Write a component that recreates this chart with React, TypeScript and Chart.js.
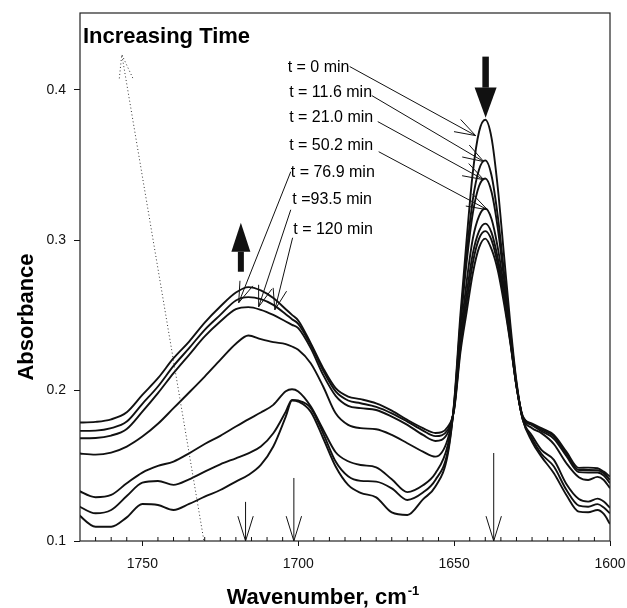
import React, { useEffect, useRef } from "react";
import { Chart, registerables } from "chart.js";

Chart.register(...registerables);

const FONT = '"Liberation Sans", Arial, Helvetica, sans-serif';

// Wavenumber sample points (cm-1)
const wavenumbers = [1771, 1765, 1760, 1755, 1750, 1745, 1740, 1735, 1730, 1725, 1720, 1716, 1712, 1708, 1704, 1702, 1700, 1696, 1692, 1688, 1684, 1680, 1675, 1670, 1665, 1660, 1656, 1652, 1650, 1648, 1646, 1644, 1642, 1640, 1638, 1636, 1634, 1632, 1630, 1628, 1625, 1622, 1618, 1614, 1610, 1607, 1604, 1602, 1600];

// Absorbance spectra, one per time
const absT0 = [0.1184, 0.1095, 0.1095, 0.1157, 0.1246, 0.1239, 0.1206, 0.1246, 0.1295, 0.1339, 0.1395, 0.1439, 0.1506, 0.1628, 0.1827, 0.1934, 0.1927, 0.1860, 0.1683, 0.1495, 0.1373, 0.1320, 0.1290, 0.1190, 0.1173, 0.1277, 0.1362, 0.1580, 0.1920, 0.2500, 0.3000, 0.3450, 0.3720, 0.3800, 0.3680, 0.3350, 0.2900, 0.2450, 0.2060, 0.1810, 0.1660, 0.1561, 0.1450, 0.1306, 0.1195, 0.1191, 0.1206, 0.1180, 0.1113];
const absT11 = [0.1238, 0.1184, 0.1206, 0.1299, 0.1388, 0.1399, 0.1373, 0.1410, 0.1461, 0.1510, 0.1550, 0.1583, 0.1628, 0.1716, 0.1860, 0.1938, 0.1934, 0.1885, 0.1716, 0.1528, 0.1430, 0.1400, 0.1395, 0.1350, 0.1273, 0.1322, 0.1406, 0.1600, 0.1910, 0.2450, 0.2910, 0.3270, 0.3470, 0.3530, 0.3430, 0.3160, 0.2790, 0.2400, 0.2050, 0.1810, 0.1680, 0.1580, 0.1495, 0.1340, 0.1235, 0.1228, 0.1245, 0.1222, 0.1184];
const absT21 = [0.1339, 0.1291, 0.1306, 0.1384, 0.1455, 0.1499, 0.1528, 0.1583, 0.1645, 0.1699, 0.1761, 0.1809, 0.1854, 0.1905, 0.1995, 0.2009, 0.1994, 0.1895, 0.1740, 0.1590, 0.1530, 0.1505, 0.1490, 0.1410, 0.1325, 0.1370, 0.1450, 0.1640, 0.1900, 0.2420, 0.2850, 0.3180, 0.3360, 0.3410, 0.3320, 0.3080, 0.2740, 0.2380, 0.2040, 0.1810, 0.1700, 0.1605, 0.1539, 0.1379, 0.1279, 0.1262, 0.1282, 0.1262, 0.1220];
const absT50 = [0.1583, 0.1574, 0.1588, 0.1628, 0.1694, 0.1779, 0.1883, 0.1987, 0.2093, 0.2204, 0.2311, 0.2366, 0.2342, 0.2322, 0.2309, 0.2293, 0.2271, 0.2182, 0.2027, 0.1849, 0.1772, 0.1750, 0.1743, 0.1705, 0.1650, 0.1594, 0.1561, 0.1680, 0.1890, 0.2350, 0.2720, 0.3010, 0.3160, 0.3210, 0.3140, 0.2950, 0.2680, 0.2350, 0.2030, 0.1820, 0.1750, 0.1717, 0.1644, 0.1517, 0.1424, 0.1406, 0.1426, 0.1406, 0.1351];
const absT77 = [0.1683, 0.1685, 0.1701, 0.1745, 0.1860, 0.1983, 0.2116, 0.2238, 0.2360, 0.2459, 0.2541, 0.2555, 0.2537, 0.2503, 0.2459, 0.2437, 0.2415, 0.2282, 0.2104, 0.1965, 0.1898, 0.1883, 0.1871, 0.1827, 0.1772, 0.1705, 0.1665, 0.1720, 0.1880, 0.2310, 0.2640, 0.2910, 0.3060, 0.3110, 0.3050, 0.2880, 0.2640, 0.2340, 0.2030, 0.1820, 0.1770, 0.1730, 0.1680, 0.1565, 0.1458, 0.1455, 0.1455, 0.1435, 0.1384];
const absT93 = [0.1732, 0.1734, 0.1750, 0.1794, 0.1912, 0.2027, 0.2164, 0.2282, 0.2404, 0.2503, 0.2599, 0.2621, 0.2608, 0.2570, 0.2508, 0.2474, 0.2444, 0.2304, 0.2133, 0.1994, 0.1934, 0.1916, 0.1892, 0.1849, 0.1794, 0.1734, 0.1697, 0.1740, 0.1880, 0.2280, 0.2580, 0.2850, 0.3010, 0.3060, 0.3000, 0.2840, 0.2610, 0.2330, 0.2030, 0.1830, 0.1775, 0.1740, 0.1695, 0.1580, 0.1472, 0.1472, 0.1470, 0.1450, 0.1406];
const absT120 = [0.1787, 0.1792, 0.1809, 0.1856, 0.1971, 0.2082, 0.2215, 0.2326, 0.2452, 0.2559, 0.2652, 0.2688, 0.2666, 0.2615, 0.2541, 0.2503, 0.2466, 0.2315, 0.2149, 0.2016, 0.1960, 0.1943, 0.1915, 0.1867, 0.1805, 0.1750, 0.1718, 0.1760, 0.1870, 0.2250, 0.2520, 0.2780, 0.2950, 0.3010, 0.2940, 0.2800, 0.2580, 0.2320, 0.2030, 0.1830, 0.1780, 0.1750, 0.1705, 0.1594, 0.1486, 0.1488, 0.1484, 0.1461, 0.1428];

const timeLabels = ["t = 0 min", "t = 11.6 min", "t = 21.0 min", "t = 50.2 min", "t = 76.9 min", "t =93.5 min", "t = 120 min"];
const xTickValues = [1750, 1700, 1650, 1600];
const yTickValues = [0.1, 0.2, 0.3, 0.4];

// Annotation anchors in data units (wavenumber, absorbance)
const labelAnchors = [
  [1703.4, 0.4145], [1702.9, 0.3979], [1702.9, 0.3812], [1702.9, 0.3628],
  [1702.4, 0.3446], [1701.9, 0.3269], [1701.6, 0.3069],
];
const leaderLines = [
  [1683.5, 0.4154, 1643.1, 0.3695],
  [1676.4, 0.3961, 1640.5, 0.3522],
  [1674.5, 0.3788, 1640.5, 0.3402],
  [1674.2, 0.3588, 1639.3, 0.3202],
  [1702.4, 0.3455, 1719.1, 0.2584],
  [1702.4, 0.3202, 1712.7, 0.2557],
  [1701.8, 0.3016, 1707.5, 0.2537],
];
const bandMarkers = [[1716.9, 0.126], [1701.4, 0.1419], [1637.3, 0.1585]];
const timeArrow = [1730.3, 0.1007, 1756.6, 0.4234];
const upArrow = [1718.4, 0.279, 0.2923, 0.3116];
const downArrow = [1639.9, 0.422, 0.4014, 0.3814];

function openHead(ctx, tx, ty, fx, fy, len, half) {
  const ang = Math.atan2(fy - ty, fx - tx);
  ctx.beginPath();
  ctx.moveTo(tx + len * Math.cos(ang - half), ty + len * Math.sin(ang - half));
  ctx.lineTo(tx, ty);
  ctx.lineTo(tx + len * Math.cos(ang + half), ty + len * Math.sin(ang + half));
  ctx.stroke();
}

const annotationPlugin = {
  id: "annotations",
  afterDraw(chart) {
    const { ctx, chartArea: a, scales } = chart;
    const X = (v) => scales.x.getPixelForValue(v);
    const Y = (v) => scales.y.getPixelForValue(v);
    ctx.save();
    // frame
    ctx.strokeStyle = "#222";
    ctx.lineWidth = 1.2;
    ctx.strokeRect(a.left, a.top, a.right - a.left, a.bottom - a.top);
    // minor ticks (inward)
    ctx.lineWidth = 1;
    ctx.strokeStyle = "#111";
    for (let w = 1605; w < 1770; w += 5) {
      if (w % 50 === 0) continue;
      const x = X(w);
      ctx.beginPath();
      ctx.moveTo(x, a.bottom);
      ctx.lineTo(x, a.bottom - 4);
      ctx.stroke();
    }

    // axis titles
    ctx.fillStyle = "#000";
    ctx.font = `bold 22px ${FONT}`;
    ctx.save();
    ctx.translate(27, (a.top + a.bottom) / 2 + 40);
    ctx.rotate(-Math.PI / 2);
    ctx.textAlign = "center";
    ctx.textBaseline = "middle";
    ctx.fillText("Absorbance", 0, 0);
    ctx.restore();

    const main = "Wavenumber, cm";
    const sup = "-1";
    ctx.font = `bold 22px ${FONT}`;
    const wMain = ctx.measureText(main).width;
    ctx.font = `bold 13px ${FONT}`;
    const wSup = ctx.measureText(sup).width;
    const startX = 323 - (wMain + wSup + 1) / 2;
    ctx.textAlign = "left";
    ctx.textBaseline = "alphabetic";
    ctx.font = `bold 22px ${FONT}`;
    ctx.fillText(main, startX, 604);
    ctx.font = `bold 13px ${FONT}`;
    ctx.fillText(sup, startX + wMain + 1, 595);

    // Increasing Time
    ctx.font = `bold 22px ${FONT}`;
    ctx.fillText("Increasing Time", a.left + 3, a.top + 30);

    // time labels
    ctx.font = `16px ${FONT}`;
    ctx.textBaseline = "middle";
    timeLabels.forEach((t, i) => {
      ctx.fillText(t, X(labelAnchors[i][0]), Y(labelAnchors[i][1]));
    });

    // leader lines with open arrowheads
    ctx.lineWidth = 1;
    ctx.strokeStyle = "#111";
    leaderLines.forEach(([w1, a1, w2, a2]) => {
      const x1 = X(w1), y1 = Y(a1), x2 = X(w2), y2 = Y(a2);
      ctx.beginPath();
      ctx.moveTo(x1, y1);
      ctx.lineTo(x2, y2);
      ctx.stroke();
      openHead(ctx, x2, y2, x1, y1, 22, 0.32);
    });

    // band marker arrows at the bottom
    bandMarkers.forEach(([w, top]) => {
      const x = X(w), y1 = Y(top), y2 = a.bottom;
      ctx.beginPath();
      ctx.moveTo(x, y1);
      ctx.lineTo(x, y2);
      ctx.stroke();
      openHead(ctx, x, y2, x, y1, 26, 0.3);
    });

    // dotted time arrow
    ctx.save();
    ctx.setLineDash([1, 2.5]);
    ctx.strokeStyle = "#333";
    const [tw1, ta1, tw2, ta2] = timeArrow;
    const tx1 = X(tw1), ty1 = Y(ta1), tx2 = X(tw2), ty2 = Y(ta2);
    ctx.beginPath();
    ctx.moveTo(tx1, ty1);
    ctx.lineTo(tx2, ty2);
    ctx.stroke();
    openHead(ctx, tx2, ty2, tx1, ty1, 26, 0.27);
    ctx.restore();

    // thick arrows
    ctx.fillStyle = "#111";
    const drawThick = ([w, shaftEnd, headBase, tip], shaftW, headW) => {
      const x = X(w), ys = Y(shaftEnd), yb = Y(headBase), yt = Y(tip);
      ctx.fillRect(x - shaftW / 2, Math.min(ys, yb), shaftW, Math.abs(ys - yb));
      ctx.beginPath();
      ctx.moveTo(x - headW / 2, yb);
      ctx.lineTo(x + headW / 2, yb);
      ctx.lineTo(x, yt);
      ctx.closePath();
      ctx.fill();
    };
    drawThick(upArrow, 6, 19);
    drawThick(downArrow, 6.5, 22);

    ctx.restore();
  },
};

export default function App() {
  const canvasRef = useRef(null);

  useEffect(() => {
    const series = [absT0, absT11, absT21, absT50, absT77, absT93, absT120];
    const chart = new Chart(canvasRef.current, {
      type: "line",
      data: {
        datasets: series.map((s, k) => ({
          label: timeLabels[k],
          data: wavenumbers.map((w, i) => ({ x: w, y: s[i] })),
          borderColor: "#111",
          borderWidth: 1.9,
          pointRadius: 0,
          fill: false,
          cubicInterpolationMode: "monotone",
        })),
      },
      options: {
        animation: false,
        responsive: true,
        maintainAspectRatio: false,
        devicePixelRatio: 1,
        layout: { padding: { left: 0, top: 13, right: 17, bottom: 0 } },
        plugins: { legend: { display: false }, tooltip: { enabled: false } },
        scales: {
          x: {
            type: "linear",
            min: 1600,
            max: 1770,
            reverse: true,
            afterFit: (s) => { s.height = 67; s.paddingLeft = 0; s.paddingRight = 0; },
            afterBuildTicks: (s) => { s.ticks = xTickValues.map((v) => ({ value: v })); },
            ticks: {
              autoSkip: false,
              maxRotation: 0,
              padding: 10,
              color: "#111",
              font: { family: FONT, size: 14 },
              callback: (v) => String(v),
            },
            grid: { display: true, drawOnChartArea: false, drawTicks: true, tickLength: 5, color: "#111", tickColor: "#111" },
            border: { display: false },
          },
          y: {
            type: "linear",
            min: 0.1,
            max: 0.451,
            afterFit: (s) => { s.width = 80; s.paddingTop = 0; s.paddingBottom = 0; },
            afterBuildTicks: (s) => { s.ticks = yTickValues.map((v) => ({ value: v })); },
            ticks: {
              autoSkip: false,
              padding: 8,
              color: "#111",
              font: { family: FONT, size: 14 },
              callback: (v) => Number(v).toFixed(1),
            },
            grid: { display: true, drawOnChartArea: false, drawTicks: true, tickLength: 6, color: "#111", tickColor: "#111" },
            border: { display: false },
          },
        },
      },
      plugins: [annotationPlugin],
    });
    return () => chart.destroy();
  }, []);

  return (
    <div style={{ position: "fixed", left: 0, top: 0, width: 627, height: 608, background: "#fff" }}>
      <canvas ref={canvasRef} />
    </div>
  );
}
